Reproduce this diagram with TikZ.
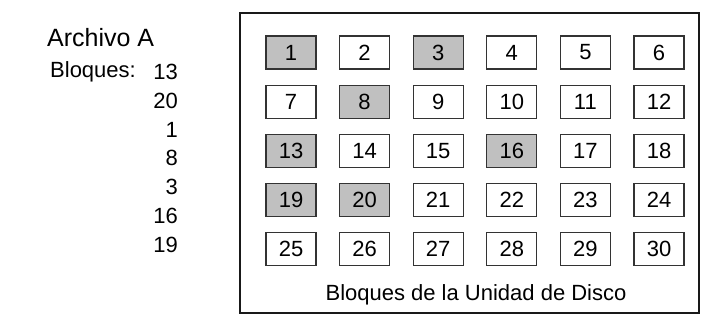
\documentclass[tikz,border=0pt]{standalone}
\usepackage{fontspec}
\setmainfont{Liberation Sans}
\tikzset{
  bloque/.style={draw=black!80, line width=1.3pt, minimum width=50pt, minimum height=33pt, inner sep=0pt, font=\fontsize{22}{22}\selectfont},
  etiqueta/.style={inner sep=0pt, font=\fontsize{22}{22}\selectfont}
}
\begin{document}
\begin{tikzpicture}[x=1pt,y=-1pt]
\definecolor{usadocolor}{RGB}{192,192,192}
\useasboundingbox (0,0) rectangle (701,327);
% File A and its block list
\node[etiqueta, anchor=west, font=\fontsize{25}{25}\selectfont] (archivo) at (47,38) {Archivo A};
\node[etiqueta, anchor=west] (bloqueslab) at (50,72) {Bloques:};
\foreach \b [count=\i from 0] in {13,20,1,8,3,16,19} {
  \pgfmathsetmacro{\ypos}{72+\i*28.8}
  \node[etiqueta, anchor=east] (lista\b) at (178,\ypos) {\b};
}
% Disk frame
\draw[line width=2pt, black!90] (240,13) rectangle (699,313);
% Disk blocks (6 per row)
\foreach \n in {1,...,30} {
  \pgfmathtruncatemacro{\col}{mod(\n-1,6)}
  \pgfmathtruncatemacro{\row}{div(\n-1,6)}
  \pgfmathtruncatemacro{\usado}{(\n==1)||(\n==3)||(\n==8)||(\n==13)||(\n==16)||(\n==19)||(\n==20)}
  \ifnum\usado=1 \def\relleno{usadocolor}\else\def\relleno{white}\fi
  \node[bloque, fill=\relleno] (b\n) at ({291+\col*73.6},{52.5+\row*49.2}) {\n};
}
% Caption
\node[etiqueta] (disco) at (476,295) {Bloques de la Unidad de Disco};
\end{tikzpicture}
\end{document}
